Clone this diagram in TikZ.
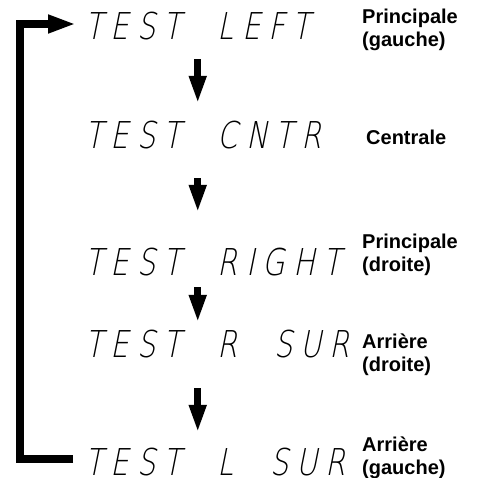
\documentclass[tikz,border=0pt]{standalone}
\usepackage{fontspec}
\setmainfont{Liberation Sans}
\newfontfamily\segfont{DejaVu Sans ExtraLight}[FakeSlant=0.2,FakeStretch=0.78,LetterSpace=22,WordSpace=2.1]
\usetikzlibrary{arrows.meta,positioning}

\begin{document}
\begin{tikzpicture}[x=1pt, y=-1pt,
  disp/.style={anchor=west, inner sep=0pt, text height=27pt, text depth=0pt, font=\segfont\fontsize{37}{37}\selectfont},
  tag/.style={anchor=west, inner sep=0pt, align=left, font=\bfseries\fontsize{20}{23}\selectfont},
  stepdown/.style={line width=7pt, -{Triangle[length=28pt,width=16pt]}},
  loopback/.style={line width=8pt, line join=miter, -{Triangle[length=28pt,width=17pt]}, shorten <=12pt, shorten >=9pt}]
\useasboundingbox (0,0) rectangle (477,478);
\node (t1) [disp] at (85,26.5) {TEST LEFT};
\node (t2) [disp] at (85,135) {TEST CNTR};
\node (t3) [disp] at (85,262) {TEST RIGHT};
\node (t4) [disp] at (85,343.5) {TEST R SUR};
\node (t5) [disp] at (85,461.5) {TEST L SUR};
\node (c1) [tag] at (362,30) {Principale\\(gauche)};
\node (c2) [tag] at (366,137) {Centrale};
\node (c3) [tag] at (362,255) {Principale\\(droite)};
\node (c4) [tag] at (362,355) {Arrière\\(droite)};
\node (c5) [tag] at (362,458) {Arrière\\(gauche)};
\coordinate (back) at (20,0);
\draw[stepdown, shorten <=19pt, shorten >=17.5pt] (t1.south) -- (t1.south |- t2.north);
\draw[stepdown, shorten <=29.5pt, shorten >=35.5pt] (t1.south |- t2.south) -- (t1.south |- t3.north);
\draw[stepdown, shorten <=11.5pt, shorten >=7pt] (t1.south |- t3.south) -- (t1.south |- t4.north);
\draw[stepdown, shorten <=31pt, shorten >=15pt] (t1.south |- t4.south) -- (t1.south |- t5.north);
\draw[loopback] ([yshift=3pt]t5.west) -- ([yshift=3pt]t5.west -| back) |- ([yshift=2.5pt]t1.west);
\end{tikzpicture}
\end{document}
